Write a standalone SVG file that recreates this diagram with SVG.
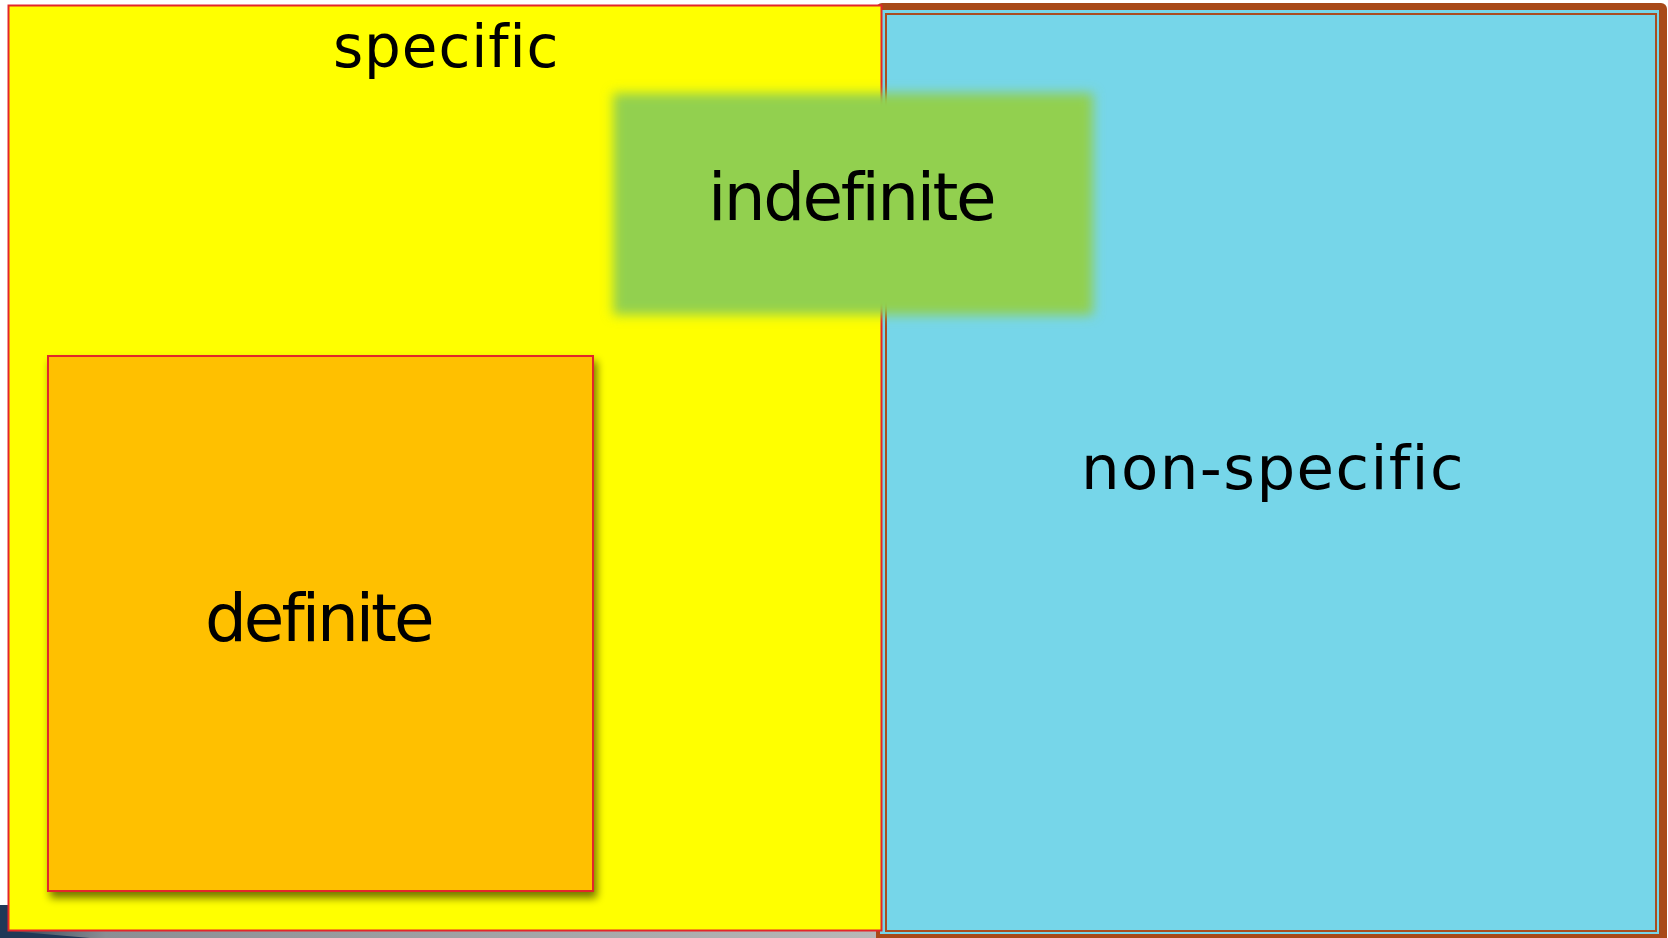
<svg xmlns="http://www.w3.org/2000/svg" width="1668" height="938" viewBox="0 0 1668 938">
  <defs>
    <style>
      .lbl { font-family: "DejaVu Sans", "Noto Sans", sans-serif; fill: #000000; font-variant-ligatures: none; font-feature-settings: "liga" 0, "clig" 0; letter-spacing: 0.5px; }
      .red { stroke: #E3262B; stroke-width: 2; }
    </style>
    <filter id="soft" x="-10%" y="-20%" width="120%" height="140%">
      <feGaussianBlur stdDeviation="6"/>
    </filter>
    <filter id="shadow" x="-5%" y="-5%" width="115%" height="115%">
      <feGaussianBlur in="SourceAlpha" stdDeviation="4"/>
      <feOffset dx="3" dy="6" result="b"/>
      <feComponentTransfer><feFuncA type="linear" slope="0.55"/></feComponentTransfer>
      <feMerge><feMergeNode/><feMergeNode in="SourceGraphic"/></feMerge>
    </filter>
    <linearGradient id="floor" x1="0" y1="0" x2="1" y2="0">
      <stop offset="0" stop-color="#2a3a50"/>
      <stop offset="0.12" stop-color="#8a8e94"/>
      <stop offset="1" stop-color="#b8b8b8"/>
    </linearGradient>
  </defs>
  <rect x="0" y="0" width="1668" height="938" fill="#ffffff"/>
  <g id="background">
    <rect x="0" y="930" width="880" height="8" fill="url(#floor)"/>
    <path d="M0,905 L9,905 L9,931 L90,938 L0,938 Z" fill="#1F3857"/>
  </g>
  <g id="non-specific">
    <rect x="876" y="3" width="791" height="940" rx="6" fill="#A84918"/>
    <rect x="880" y="10" width="779" height="924" fill="#76D6E9"/>
    <rect x="886" y="14" width="770" height="917" fill="none" stroke="#A84E22" stroke-width="2"/>
    <text class="lbl" x="1081" y="489" font-size="61" textLength="383" lengthAdjust="spacing">non-specific</text>
  </g>
  <g id="specific">
    <rect class="red" x="8.5" y="5.5" width="873" height="925" fill="#FFFF00"/>
    <text class="lbl" x="333" y="67" font-size="58" textLength="226" lengthAdjust="spacing">specific</text>
  </g>
  <g id="definite">
    <rect class="red" x="48" y="356" width="545" height="535" fill="#FFC000" filter="url(#shadow)"/>
    <text class="lbl" x="205" y="641" font-size="66" textLength="230" lengthAdjust="spacing">definite</text>
  </g>
  <g id="indefinite">
    <rect x="613" y="93" width="480" height="222" fill="#92D050" filter="url(#soft)"/>
    <text class="lbl" x="708" y="220" font-size="66" textLength="289" lengthAdjust="spacing">indefinite</text>
  </g>
  <g id="connectors"/>
</svg>
